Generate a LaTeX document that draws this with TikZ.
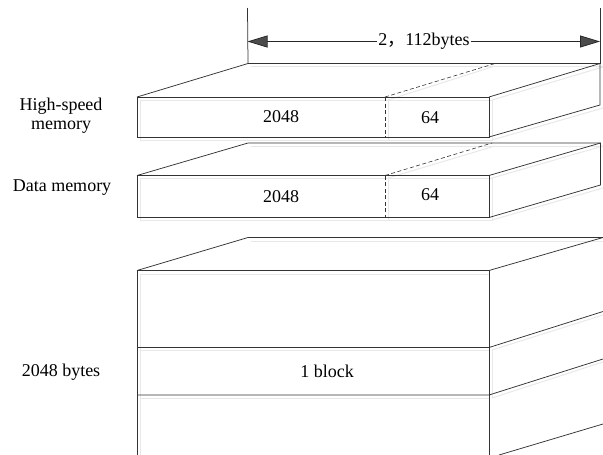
\documentclass[tikz,border=0pt]{standalone}
\usepackage{fontspec}
\setmainfont{Liberation Serif}
\newfontfamily\cjkf{Noto Sans CJK SC}
\usetikzlibrary{arrows.meta}
\tikzset{
  ln/.style={draw=black!80,line width=0.75pt},
  dsh/.style={ln,dash pattern=on 4pt off 2.5pt,line width=0.6pt},
  shd/.style={draw=black!9,line width=1pt},
  txt/.style={font=\fontsize{18}{19.5}\selectfont,text=black,inner sep=0pt,align=center},
  dim/.style={draw=black!85,line width=0.75pt,-{Triangle[length=20pt,width=12pt,fill=black!70]}}
}
\begin{document}
\begin{tikzpicture}[x=1pt,y=-1pt]
\useasboundingbox (0,0) rectangle (603,455);
% shadows
\draw[shd] (251,66) -- (603,66);
\draw[shd] (140,100) -- (492,100) -- (492,140) -- (140,140) -- cycle;
\draw[shd] (492,100) -- (603,67);
\draw[shd] (492,140) -- (603,108);
\draw[shd] (388,100) -- (388,140);
\draw[shd] (388,100) -- (495,66);
\draw[shd] (251,146) -- (603,146);
\draw[shd] (140,178) -- (492,178) -- (492,220) -- (140,220) -- cycle;
\draw[shd] (492,178) -- (603,146);
\draw[shd] (492,220) -- (603,188);
\draw[shd] (388,178) -- (388,220);
\draw[shd] (388,178) -- (495,146);
\draw[shd] (251,241) -- (603,241);
\draw[shd] (140,455) -- (140,274) -- (489,274);
\draw[shd] (140,350) -- (489,350);
\draw[shd] (140,398) -- (489,398);
\draw[shd] (492,350) -- (603,315);
\draw[shd] (492,398) -- (603,362);
\draw[shd] (492,350) -- (492,398);
% box 1
\coordinate (a1) at (137,97);
\coordinate (a2) at (489,97);
\coordinate (a3) at (489,137);
\coordinate (a4) at (137,137);
\coordinate (a5) at (248,63.5);
\coordinate (a6) at (600,63.5);
\coordinate (a7) at (600,105);
\coordinate (a8) at (385,97);
\coordinate (a9) at (385,137);
\coordinate (a10) at (495,63.5);
\draw[ln] (a1) -- (a2) -- (a3) -- (a4) -- cycle;
\draw[ln] (a1) -- (a5) -- (a6) -- (a7) -- (a3);
\draw[ln] (a2) -- (a6);
\draw[dsh] (a8) -- (a9);
\draw[dsh] (a8) -- (a10);
% box 2
\coordinate (b1) at (137,175.5);
\coordinate (b2) at (489,175.5);
\coordinate (b3) at (489,217.5);
\coordinate (b4) at (137,217.5);
\coordinate (b5) at (248,143);
\coordinate (b6) at (600.5,143);
\coordinate (b7) at (600.5,185);
\coordinate (b8) at (385,175.5);
\coordinate (b9) at (385,217.5);
\coordinate (b10) at (492,143);
\draw[ln] (b1) -- (b2) -- (b3) -- (b4) -- cycle;
\draw[ln] (b1) -- (b5) -- (b6) -- (b7) -- (b3);
\draw[ln] (b2) -- (b6);
\draw[dsh] (b8) -- (b9);
\draw[dsh] (b8) -- (b10);
% stack
\coordinate (c1) at (137,270.5);
\coordinate (c2) at (489,270.5);
\coordinate (c3) at (489,455);
\coordinate (c4) at (137,455);
\coordinate (c5) at (248,237.5);
\coordinate (c6) at (603,237.5);
\coordinate (d1) at (137,347.5);
\coordinate (d2) at (489,347.5);
\coordinate (e1) at (137,395);
\coordinate (e2) at (489,395);
\coordinate (f1) at (603,311.5);
\coordinate (f2) at (603,359);
\coordinate (f3) at (603,424);
\coordinate (f4) at (499,455);
\draw[ln] (c4) -- (c1) -- (c2) -- (c3);
\draw[ln] (c1) -- (c5) -- (c6) -- (c2);
\draw[ln] (d1) -- (d2) -- (f1);
\draw[ln] (e1) -- (e2) -- (f2);
\draw[ln] (f4) -- (f3);
% dimension
\coordinate (g1) at (247.5,8);
\coordinate (g2) at (600,8);
\coordinate (h1) at (247.5,41.5);
\coordinate (h2) at (600,41.5);
\draw[ln] (g1) -- (a5);
\draw[ln] (g2) -- (a6);
\node[txt,fill=white,inner xsep=1pt] (dimlabel) at (424,41.5) {2{\cjkf，}112bytes};
\draw[dim] (dimlabel.west) -- (h1);
\draw[dim] (dimlabel.east) -- (h2);
% labels
\node[txt] (n1) at (281,117) {2048};
\node[txt] (n2) at (430,118) {64};
\node[txt] (n3) at (281,197) {2048};
\node[txt] (n4) at (430,195) {64};
\node[txt] (n5) at (327,371.5) {1 block};
\node[txt] (l1) at (61,115.5) {High-speed\\memory};
\node[txt] (l2) at (62,187.5) {Data memory};
\node[txt] (l3) at (61,372.5) {2048 bytes};
\end{tikzpicture}
\end{document}
